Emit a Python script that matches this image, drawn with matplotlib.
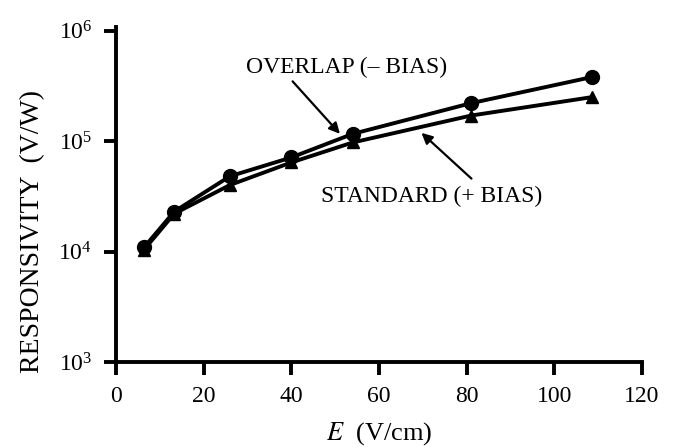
import matplotlib
import matplotlib.pyplot as plt
import numpy as np

matplotlib.use("Agg")

plt.rcParams.update({
    "font.family": ["Liberation Serif", "DejaVu Serif"],
    "mathtext.fontset": "stix",
    "axes.labelsize": 19,
    "xtick.labelsize": 17,
    "ytick.labelsize": 17,
})

# Responsivity vs. field, overlap (- bias) and standard (+ bias)
e_overlap = [6.4, 13.3, 26, 40, 54, 81, 108.7]
r_overlap = [1.09e4, 2.3e4, 4.8e4, 7.1e4, 1.16e5, 2.2e5, 3.8e5]

e_standard = [6.4, 13.3, 26, 40, 54, 81, 108.7]
r_standard = [1.04e4, 2.2e4, 4.0e4, 6.4e4, 9.7e4, 1.7e5, 2.5e5]

x_ticks = [0, 20, 40, 60, 80, 100, 120]
y_ticks = [1e3, 1e4, 1e5, 1e6]
y_tick_labels = [r"$\mathregular{10^3}$", r"$\mathregular{10^4}$",
                 r"$\mathregular{10^5}$", r"$\mathregular{10^6}$"]

fig = plt.figure(figsize=(6.74, 4.47), dpi=100)
ax = fig.add_axes([0.172, 0.19, 0.7805, 0.75])

ax.plot(e_overlap, r_overlap, color="black", lw=2.8, marker="o", ms=10)
ax.plot(e_standard, r_standard, color="black", lw=2.8, marker="^", ms=9)

ax.set_yscale("log")
ax.set_xlim(0, 120)
ax.set_ylim(1e3, 1.08e6)
ax.set_xticks(x_ticks)
ax.set_yticks(y_ticks)
ax.set_yticklabels(y_tick_labels)
ax.minorticks_off()

for side in ["top", "right"]:
    ax.spines[side].set_visible(False)
for side in ["left", "bottom"]:
    ax.spines[side].set_linewidth(2.8)
ax.tick_params(axis="both", direction="out", length=9, width=2.8, pad=8)

ax.set_xlabel(r"$\mathit{E}$  (V/cm)", labelpad=10)
ax.set_ylabel("RESPONSIVITY  (V/W)", fontsize=20)
ax.yaxis.set_label_coords(-0.135, 0.39)

# curve labels with arrows pointing at each curve
ax.text(52.7, 10**5.67, "OVERLAP (\u2013 BIAS)", ha="center", va="center", fontsize=17)
ax.text(72, 10**4.50, "STANDARD (+ BIAS)", ha="center", va="center", fontsize=17)
arrow = dict(arrowstyle="-|>", color="black", lw=1.6, shrinkA=0, shrinkB=0,
             mutation_scale=16)
ax.annotate("", xy=(51.1, 10**5.065), xytext=(40.3, 10**5.54), arrowprops=arrow)
ax.annotate("", xy=(69.7, 10**5.074), xytext=(81.1, 10**4.66), arrowprops=arrow)

fig.savefig("out.png", dpi=100)
